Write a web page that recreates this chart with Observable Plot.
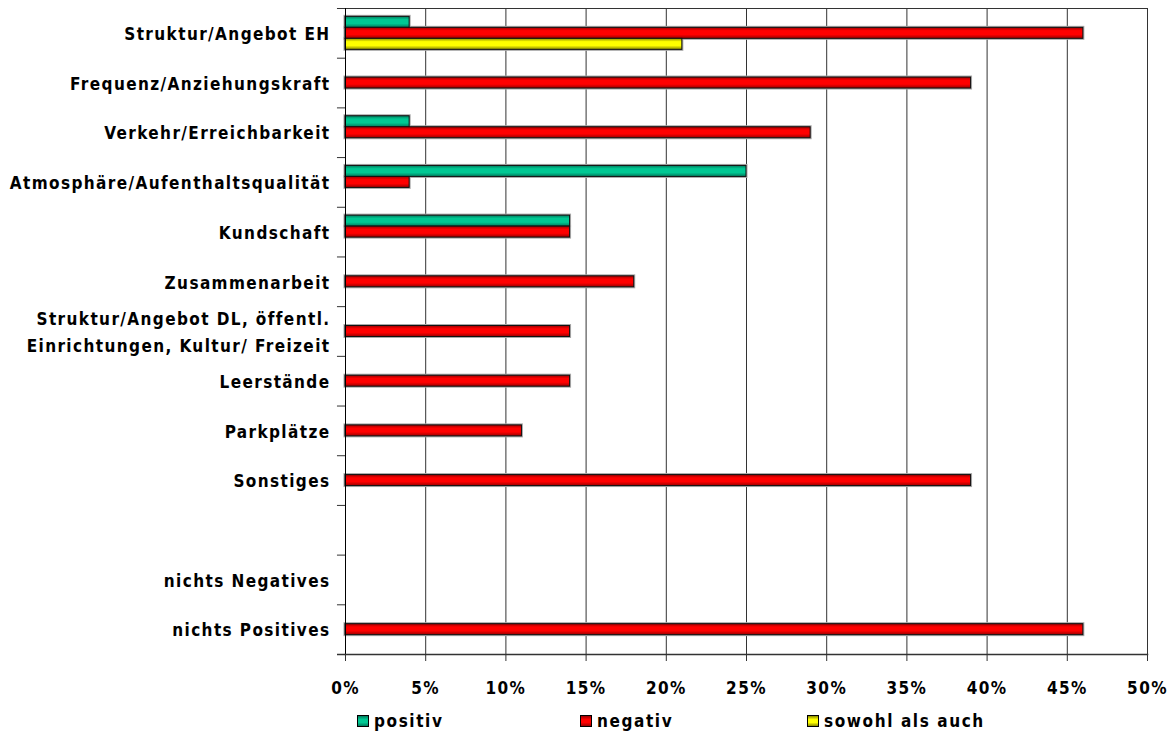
<!DOCTYPE html>
<html>
<head>
<meta charset="utf-8">
<script src="https://cdn.jsdelivr.net/npm/d3@7"></script>
<script src="https://cdn.jsdelivr.net/npm/@observablehq/plot@0.6"></script>
<style>
  html, body { margin: 0; padding: 0; background: #fff; }
  #wrap { position: relative; width: 1170px; height: 731px; }
  #legend { position: absolute; left: 0; top: 710px; width: 1170px; height: 21px;
    font-family: "DejaVu Sans Condensed", "DejaVu Sans", sans-serif; font-weight: bold;
    font-size: 17px; letter-spacing: 1.6px; color: #000; }
  #legend .item { position: absolute; top: 0; display: flex; align-items: center; height: 21px; }
  #legend .sw { width: 10px; height: 10px; border: 1px solid #000; margin-right: 5px; }
</style>
</head>
<body>
<div id="wrap">
  <div id="chart"></div>
  <div id="legend"></div>
</div>
<script>
// Survey answers per topic, share of respondents in percent
const categories = [
  "Struktur/Angebot EH",
  "Frequenz/Anziehungskraft",
  "Verkehr/Erreichbarkeit",
  "Atmosphäre/Aufenthaltsqualität",
  "Kundschaft",
  "Zusammenarbeit",
  "Struktur/Angebot DL, öffentl.\nEinrichtungen, Kultur/ Freizeit",
  "Leerstände",
  "Parkplätze",
  "Sonstiges",
  " ",
  "nichts Negatives",
  "nichts Positives"
];
const positiv = [4, null, 4, 25, 14, null, null, null, null, null, null, null, null];
const negativ = [46, 39, 29, 4, 14, 18, 14, 14, 11, 39, null, null, 46];
const sowohl  = [21, null, null, null, null, null, null, null, null, null, null, null, null];

const seriesNames = ["positiv", "negativ", "sowohl als auch"];
const xTicks = [0, 5, 10, 15, 20, 25, 30, 35, 40, 45, 50];

// Long-format rows for each series
const rows = (values, series) =>
  categories.map((c, i) => ({category: c, value: values[i], series}))
            .filter(d => d.value != null);
const posRows = rows(positiv, "positiv");
const negRows = rows(negativ, "negativ");
const sowRows = rows(sowohl, "sowohl als auch");

const W = 1170, H = 705;
const marginTop = 8, marginBottom = 51, marginLeft = 345, marginRight = 23;
const band = (H - marginTop - marginBottom) / categories.length;
const barH = 11;
const g0 = (band - 3 * barH) / 2;   // free space above the three-bar group

const font = "DejaVu Sans Condensed";

// one slot per series inside each category band
const slots = [
  {rows: posRows, fill: "url(#gPos)", top: g0, bottom: band - g0 - barH},
  {rows: negRows, fill: "url(#gNeg)", top: g0 + barH, bottom: band - g0 - 2 * barH},
  {rows: sowRows, fill: "url(#gSow)", top: g0 + 2 * barH, bottom: g0}
];

const chart = Plot.plot({
  width: W,
  height: H,
  marginTop, marginBottom, marginLeft, marginRight,
  style: {fontFamily: font, fontWeight: "bold", fontSize: "17px", letterSpacing: "1.4px", color: "#000", background: "#fff"},
  x: {domain: [0, 50]},
  y: {domain: categories, padding: 0, round: false},
  marks: [
    // vertical grid lines, incl. the right border at 50 %
    Plot.ruleX(xTicks.slice(1), {stroke: "#333", strokeWidth: 1}),
    // top border
    Plot.frame({anchor: "top", stroke: "#333"}),
    // soft grey halo around the bars
    ...slots.map(s => Plot.barX(s.rows, {x: "value", y: "category", fill: "none", stroke: "#a8a8a8", strokeWidth: 3,
      insetTop: s.top, insetBottom: s.bottom})),
    // the bars
    ...slots.map(s => Plot.barX(s.rows, {x: "value", y: "category", fill: s.fill, stroke: "#111", strokeWidth: 1,
      insetTop: s.top, insetBottom: s.bottom})),
    // left axis line and bottom axis line
    Plot.ruleX([0], {stroke: "#000"}),
    Plot.frame({anchor: "bottom", stroke: "#333", strokeWidth: 1.5}),
    // category tick marks on the band boundaries
    Plot.ruleY(categories, {y: d => d, dy: -band / 2, x1: -0.5, x2: 0, stroke: "#333"}),
    Plot.ruleY(categories.slice(-1), {y: d => d, dy: band / 2, x1: -0.5, x2: 0, stroke: "#333", strokeWidth: 1.5}),
    Plot.axisY({tickSize: 0, tickPadding: 15, lineHeight: 1.6, label: null, fontSize: 17, dy: -2}),
    Plot.axisX({ticks: xTicks, tickFormat: d => d + "%", tickSize: 7, tickPadding: 20, label: null, stroke: "#333",
      fontSize: 17, letterSpacing: "2.4px"})
  ]
});

// Vertical shading gradients for the bar fills
const defs = d3.select(chart).insert("defs", ":first-child");
const grad = (id, dark, light) => {
  const g = defs.append("linearGradient").attr("id", id)
    .attr("x1", 0).attr("y1", 0).attr("x2", 0).attr("y2", 1);
  g.append("stop").attr("offset", "0%").attr("stop-color", dark);
  g.append("stop").attr("offset", "30%").attr("stop-color", light);
  g.append("stop").attr("offset", "65%").attr("stop-color", light);
  g.append("stop").attr("offset", "100%").attr("stop-color", dark);
};
grad("gPos", "#007a5c", "#00c893");
grad("gNeg", "#9a0000", "#ff0000");
grad("gSow", "#8a8a00", "#ffff00");

document.getElementById("chart").appendChild(chart);

// Legend below the chart
const legendItems = [
  {name: seriesNames[0], left: 357, bg: "linear-gradient(#007a5c, #00c893 35%, #00c893 65%, #007a5c)"},
  {name: seriesNames[1], left: 580, bg: "linear-gradient(#9a0000, #ff0000 35%, #ff0000 65%, #9a0000)"},
  {name: seriesNames[2], left: 807, bg: "linear-gradient(#8a8a00, #ffff00 35%, #ffff00 65%, #8a8a00)"}
];
const legend = d3.select("#legend");
legendItems.forEach(it => {
  const item = legend.append("div").attr("class", "item").style("left", it.left + "px");
  item.append("div").attr("class", "sw").style("background", it.bg);
  item.append("span").text(it.name);
});
</script>
</body>
</html>
